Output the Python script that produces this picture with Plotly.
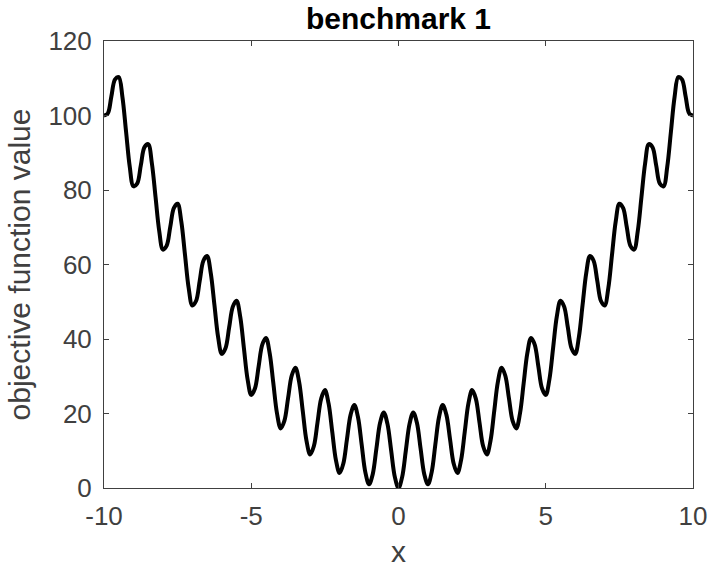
import plotly.graph_objects as go

# sample positions along x (every 1/8 unit from -10 to 10)
x_vals = [i / 8 for i in range(-80, 81)]
# objective values at those positions
y_vals = [100, 100.5, 105.1, 109.7, 110.3, 105.0, 95.6, 86.2,
          81, 81.7, 86.6, 91.5, 92.3, 87.2, 78.1, 69.0,
          64, 65.0, 70.1, 75.2, 76.3, 71.5, 62.6, 53.7,
          49, 50.2, 55.6, 61.0, 62.3, 57.7, 49.1, 40.5,
          36, 37.5, 43.1, 48.7, 50.3, 46.0, 37.6, 29.2,
          25, 26.7, 32.6, 38.5, 40.3, 36.2, 28.1, 20.0,
          16, 18.0, 24.1, 30.2, 32.3, 28.5, 20.6, 12.7,
          9, 11.2, 17.6, 24.0, 26.3, 22.7, 15.1, 7.5,
          4, 6.5, 13.1, 19.7, 22.3, 19.0, 11.6, 4.2,
          1, 3.7, 10.6, 17.5, 20.3, 17.2, 10.1, 3.0,
          0,
          3.0, 10.1, 17.2, 20.3, 17.5, 10.6, 3.7,
          1, 4.2, 11.6, 19.0, 22.3, 19.7, 13.1, 6.5,
          4, 7.5, 15.1, 22.7, 26.3, 24.0, 17.6, 11.2,
          9, 12.7, 20.6, 28.5, 32.3, 30.2, 24.1, 18.0,
          16, 20.0, 28.1, 36.2, 40.3, 38.5, 32.6, 26.7,
          25, 29.2, 37.6, 46.0, 50.3, 48.7, 43.1, 37.5,
          36, 40.5, 49.1, 57.7, 62.3, 61.0, 55.6, 50.2,
          49, 53.7, 62.6, 71.5, 76.3, 75.2, 70.1, 65.0,
          64, 69.0, 78.1, 87.2, 92.3, 91.5, 86.6, 81.7,
          81, 86.2, 95.6, 105.0, 110.3, 109.7, 105.1, 100.5,
          100]
x_ticks = [-10, -5, 0, 5, 10]
x_tick_labels = ["-10", "-5", "0", "5", "10"]
y_ticks = [0, 20, 40, 60, 80, 100, 120]
y_tick_labels = ["0", "20", "40", "60", "80", "100", "120"]

axis_col = "#404040"
fig = go.Figure()
fig.add_trace(go.Scatter(x=x_vals, y=y_vals, mode="lines",
                         line=dict(color="black", width=4, shape="spline", smoothing=1.0),
                         showlegend=False))
fig.update_layout(
    width=709, height=570,
    margin=dict(l=104, r=16, t=41, b=82),
    paper_bgcolor="white", plot_bgcolor="white",
    font=dict(family="Liberation Sans, Arial, sans-serif", color=axis_col, size=26),
    title=dict(text="<b>benchmark 1</b>", x=0.5, xref="paper", xanchor="center",
               y=1 - 18 / 570, yref="container", yanchor="middle",
               font=dict(size=30, color="black")),
)
fig.update_xaxes(range=[-10, 10], tickvals=x_ticks, ticktext=x_tick_labels,
                 ticks="inside", ticklen=5, ticklabelstandoff=5, automargin=False,
                 tickcolor=axis_col, showline=True, linecolor=axis_col, linewidth=1,
                 mirror="ticks", showgrid=False, zeroline=False,
                 title=dict(text="x", standoff=10, font=dict(size=30)))
fig.update_yaxes(range=[0, 120], tickvals=y_ticks, ticktext=y_tick_labels,
                 ticks="inside", ticklen=5, ticklabelstandoff=6, automargin=False,
                 tickcolor=axis_col, showline=True, linecolor=axis_col, linewidth=1,
                 mirror="ticks", showgrid=False, zeroline=False,
                 title=dict(text="objective function value", standoff=8, font=dict(size=30)))
fig.write_html("out.html")
